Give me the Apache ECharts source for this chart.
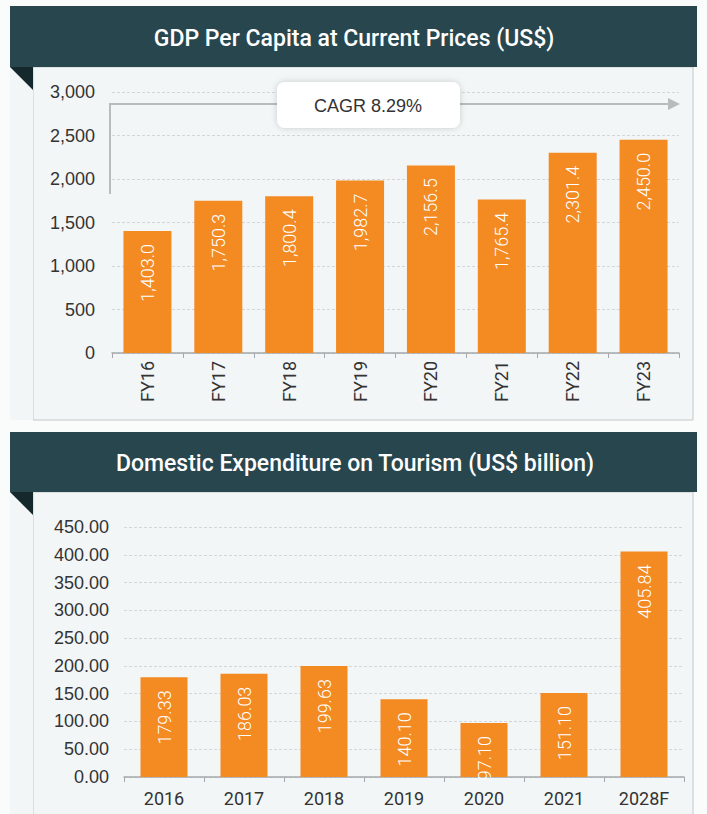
<!DOCTYPE html>
<html>
<head>
    <meta charset="utf-8">
    <title>GDP Per Capita / Domestic Expenditure on Tourism</title>
    <style>
        html, body { margin: 0; padding: 0; background: #fafbfb; }
        #main { width: 707px; height: 814px; }
    </style>
</head>
<body>
    <div id="main"></div>
    <script src="https://cdn.jsdelivr.net/npm/echarts@6/dist/echarts.min.js"></script>
    <script>
        // chart data
        var gdpYears = ['FY16', 'FY17', 'FY18', 'FY19', 'FY20', 'FY21', 'FY22', 'FY23'];
        var gdpValues = [1403.0, 1750.3, 1800.4, 1982.7, 2156.5, 1765.4, 2301.4, 2450.0];
        var gdpTitle = 'GDP Per Capita at Current Prices (US$)';
        var cagrText = 'CAGR 8.29%';

        var tourYears = ['2016', '2017', '2018', '2019', '2020', '2021', '2028F'];
        var tourValues = [179.33, 186.03, 199.63, 140.10, 97.10, 151.10, 405.84];
        var tourTitle = 'Domestic Expenditure on Tourism (US$ billion)';

        var orange = '#f38a22';
        var header = '#28464e';
        var fold = '#15282c';
        var panel = '#f3f6f7';
        var border = '#c3c8ca';

        function withCommas(v, d) {
            return v.toLocaleString('en-US', { minimumFractionDigits: d, maximumFractionDigits: d });
        }

        var myChart = echarts.init(document.getElementById('main'), null, { renderer: 'svg' });

        var barLabel = {
            show: true,
            position: 'insideTop',
            rotate: 90,
            align: 'right',
            verticalAlign: 'middle',
            distance: 13,
            color: '#fff',
            fontSize: 18,
            fontWeight: 300,
            fontFamily: 'Roboto'
        };

        option = {
            animation: false,
            graphic: [
                // panels
                { type: 'rect', z: -2, shape: { x: 33, y: 67, width: 660, height: 353 },
                  style: { fill: panel, stroke: border, lineWidth: 1 } },
                { type: 'rect', z: -2, shape: { x: 10, y: 67, width: 23, height: 353 },
                  style: { fill: panel } },
                { type: 'rect', z: -2, shape: { x: 33, y: 492, width: 660, height: 330 },
                  style: { fill: panel, stroke: border, lineWidth: 1 } },
                { type: 'rect', z: -2, shape: { x: 10, y: 492, width: 23, height: 330 },
                  style: { fill: panel } },
                // headers
                { type: 'rect', z: -1, shape: { x: 10, y: 6, width: 687, height: 61 }, style: { fill: header } },
                { type: 'rect', z: -1, shape: { x: 10, y: 432, width: 687, height: 60 }, style: { fill: header } },
                { type: 'polygon', z: -1, shape: { points: [[10, 67], [33, 67], [33, 90]] }, style: { fill: fold } },
                { type: 'polygon', z: -1, shape: { points: [[10, 492], [33, 492], [33, 515]] }, style: { fill: fold } },
                { type: 'text', z: 1, x: 354, y: 38,
                  style: { text: gdpTitle, fill: '#fff', font: '500 23px Roboto', textAlign: 'center', textVerticalAlign: 'middle' } },
                { type: 'text', z: 1, x: 355, y: 463,
                  style: { text: tourTitle, fill: '#fff', font: '500 23px Roboto', textAlign: 'center', textVerticalAlign: 'middle' } },
                // CAGR arrow
                { type: 'polyline', z: 5, shape: { points: [[110, 194], [110, 104], [670, 104]] },
                  style: { stroke: '#b9bcbd', lineWidth: 2, fill: null } },
                { type: 'polygon', z: 5, shape: { points: [[668, 98], [680, 104], [668, 110]] },
                  style: { fill: '#b9bcbd' } },
                { type: 'rect', z: 6, shape: { x: 277, y: 82, width: 183, height: 46, r: 8 },
                  style: { fill: '#fff', shadowBlur: 6, shadowColor: 'rgba(0,0,0,0.18)' } },
                { type: 'text', z: 7, x: 368, y: 106,
                  style: { text: cagrText, fill: '#333', font: '18px "Liberation Sans"', textAlign: 'center', textVerticalAlign: 'middle' } }
            ],
            grid: [
                { left: 112, top: 92, width: 567, height: 261 },
                { left: 124, top: 527, width: 560, height: 250 }
            ],
            xAxis: [
                {
                    type: 'category', gridIndex: 0, data: gdpYears,
                    axisLine: { lineStyle: { color: '#a5a9ab', width: 1.5 } },
                    axisTick: { show: true, length: 5, lineStyle: { color: '#a5a9ab' } },
                    axisLabel: { rotate: 90, margin: 8, color: '#333', fontSize: 18, fontFamily: 'Roboto' }
                },
                {
                    type: 'category', gridIndex: 1, data: tourYears,
                    axisLine: { lineStyle: { color: '#a5a9ab', width: 1.5 } },
                    axisTick: { show: true, length: 5, lineStyle: { color: '#a5a9ab' } },
                    axisLabel: { margin: 12, color: '#333', fontSize: 18, fontFamily: 'Roboto' }
                }
            ],
            yAxis: [
                {
                    type: 'value', gridIndex: 0, min: 0, max: 3000, interval: 500,
                    axisLine: { show: false }, axisTick: { show: false },
                    axisLabel: { margin: 17, color: '#333', fontSize: 18, fontFamily: 'Liberation Sans',
                        formatter: function (v) { return withCommas(v, 0); } },
                    splitLine: { lineStyle: { color: '#d3d7d9', type: [3, 2] } }
                },
                {
                    type: 'value', gridIndex: 1, min: 0, max: 450, interval: 50,
                    axisLine: { show: false }, axisTick: { show: false },
                    axisLabel: { margin: 15, color: '#333', fontSize: 18, fontFamily: 'Liberation Sans',
                        formatter: function (v) { return v.toFixed(2); } },
                    splitLine: { lineStyle: { color: '#d3d7d9', type: [3, 2] } }
                }
            ],
            series: [
                {
                    name: gdpTitle, type: 'bar', xAxisIndex: 0, yAxisIndex: 0,
                    barWidth: 48, itemStyle: { color: orange },
                    label: Object.assign({}, barLabel, {
                        formatter: function (p) { return withCommas(p.value, 1); }
                    }),
                    data: gdpValues
                },
                {
                    name: tourTitle, type: 'bar', xAxisIndex: 1, yAxisIndex: 1,
                    barWidth: 47, itemStyle: { color: orange },
                    label: Object.assign({}, barLabel, {
                        formatter: function (p) { return p.value.toFixed(2); }
                    }),
                    data: tourValues
                }
            ]
        };
        myChart.setOption(option);
    </script>
</body>
</html>
